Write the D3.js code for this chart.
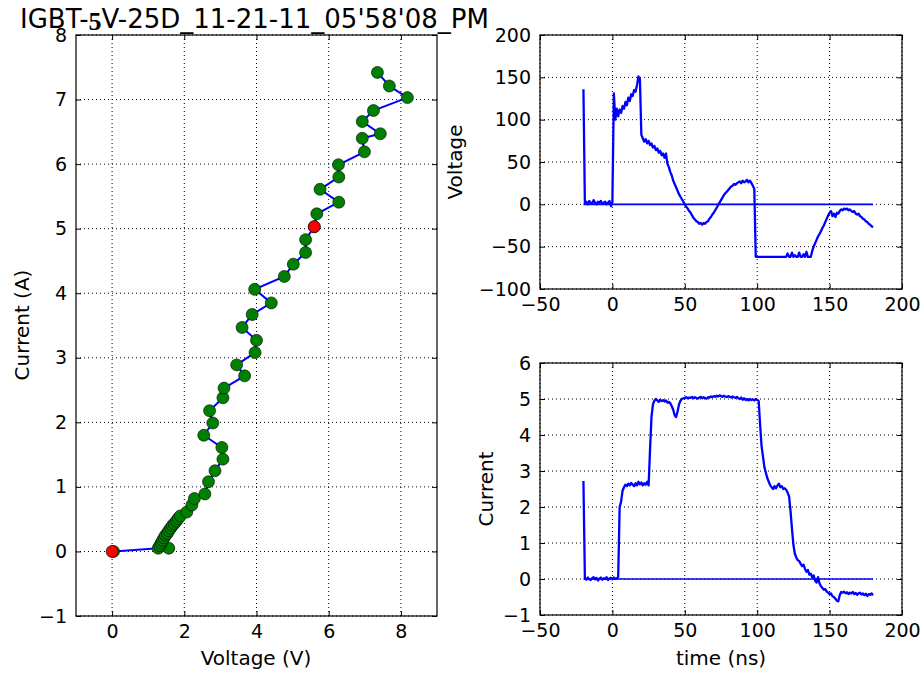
<!DOCTYPE html>
<html><head><meta charset="utf-8">
<script src="https://cdn.jsdelivr.net/npm/d3@7"></script>
<style>body{margin:0;background:#fff} svg{display:block} text{font-family:"DejaVu Sans",sans-serif;fill:#000}</style>
</head><body><svg id="c" width="921" height="675"></svg>
<script>
// ---------- DATA ----------
const titleParts = ["IGBT-", "5", "V-25D_11-21-11_05'58'08_PM"];

// I-V trajectory (left panel)
const ivVoltage = [0.04, 1.28, 1.57, 1.32, 1.36, 1.40, 1.44, 1.48, 1.53, 1.57, 1.62, 1.67, 1.72, 1.78, 1.83, 1.89,
  2.07, 2.21, 2.28, 2.57, 2.67, 2.85, 3.07, 3.04, 2.54, 2.79, 2.70, 3.07, 3.10, 3.67, 3.45, 3.96, 4.00, 3.60, 3.88,
  4.41, 3.95, 4.77, 5.02, 5.36, 5.36, 5.60, 5.67, 6.28, 5.76, 6.28, 6.27, 6.99, 6.93, 7.43, 6.93, 7.24, 8.18, 7.68, 7.35];
const ivCurrent = [0.00, 0.05, 0.05, 0.09, 0.13, 0.17, 0.21, 0.25, 0.28, 0.32, 0.36, 0.40, 0.43, 0.47, 0.51, 0.55,
  0.61, 0.72, 0.82, 0.89, 1.08, 1.25, 1.43, 1.61, 1.80, 1.99, 2.18, 2.38, 2.53, 2.72, 2.89, 3.08, 3.27, 3.47, 3.67,
  3.85, 4.06, 4.26, 4.45, 4.63, 4.83, 5.03, 5.23, 5.41, 5.61, 5.80, 5.99, 6.19, 6.40, 6.47, 6.66, 6.83, 7.03, 7.21, 7.42];
const markedVoltage = [0.0, 5.60];
const markedCurrent = [0.0, 5.03];

const ivXTicks = [0, 2, 4, 6, 8];
const ivYTicks = [-1, 0, 1, 2, 3, 4, 5, 6, 7, 8];

// Waveforms, one sample per ns from -20 ns to 180 ns
const sampleStart = -20, sampleEnd = 180;
const voltageTrace = [136,
  1, 3, 0, 4, 2, 1, 5, 2, 0, 3, 2, 4, 1, 2, 3, 0, 2, 4, -2,
  3,
  131, 100, 113, 104, 112, 108, 116, 113, 121, 117, 126, 122, 130, 128, 135, 133, 141, 151, 148, 82,
  78, 74, 77, 72, 75, 70, 72, 67, 69, 64, 66, 61, 63, 58, 60, 55, 60, 48, 44, 38, 34, 28, 24, 20, 16, 12, 9, 6, 3, 0,
  -3, -5, -8, -10, -13, -16, -18, -20, -21, -23, -22, -24, -22, -23, -21, -20, -17, -15, -12, -10, -7, -4, -1, 2, 5,
  8, 11, 13, 15, 17, 19, 21, 22, 24, 23, 25, 26, 27, 25, 28, 26, 27, 29, 26, 28, 25, 22, 18,
  -62, -62, -62, -62, -62, -62, -62, -62, -62, -62, -62, -62, -62, -62, -62, -62, -62, -62, -62, -62, -62,
  -62, -58, -62, -62, -57, -62, -60, -62, -62, -57, -62, -62, -59, -62, -56, -62, -62, -62,
  -55, -50, -46, -42, -38, -35, -32, -28, -25, -21, -17, -13, -10, -8, -14, -11, -15, -10, -11, -8, -6, -7, -5, -6, -5,
  -7, -6, -8, -9, -8, -11, -12, -11, -14, -15, -17, -18, -20, -21, -23, -24, -26, -27];
const currentTrace = [2.72,
  0.03, -0.02, 0.04, 0.0, -0.03, 0.02, 0.05, -0.01, 0.03, -0.04, 0.01, 0.04, -0.02, 0.02, 0.0, 0.05, -0.03, 0.02, 0.03, -0.01, 0.04, 0.0, 0.02,
  0.05, 2.0, 2.15, 2.45, 2.55, 2.62, 2.58, 2.65, 2.6, 2.67, 2.62, 2.58, 2.66, 2.6, 2.7, 2.63, 2.68, 2.6, 2.66, 2.62, 2.7, 2.6,
  3.6, 4.5, 4.85, 4.95, 5.0, 4.96, 4.92, 4.98, 4.94, 4.97, 4.93, 4.96, 4.9, 4.92, 4.88, 4.8, 4.7, 4.55, 4.5, 4.65, 4.85, 4.95, 5.0, 5.02,
  5.03, 5.05, 5.02, 5.04, 5.03, 5.06, 5.02, 5.05, 5.03, 5.01, 5.04, 5.06, 5.02, 5.05, 5.03, 5.01, 5.05, 5.04, 5.07, 5.05,
  5.08, 5.06, 5.09, 5.07, 5.1, 5.08, 5.06, 5.09, 5.07, 5.05, 5.08, 5.06, 5.04, 5.07, 5.05, 5.03, 5.06, 5.02, 5.0, 5.04,
  4.98, 5.02, 4.97, 5.0, 4.96, 5.0, 4.97, 4.99, 4.96, 5.0, 4.97, 4.95,
  4.3, 3.7, 3.4, 3.1, 2.95, 2.8, 2.7, 2.6, 2.55, 2.5, 2.58, 2.52, 2.6, 2.65, 2.55, 2.58, 2.5, 2.52, 2.48, 2.4,
  2.3, 1.9, 1.4, 0.95, 0.7, 0.6, 0.52, 0.5, 0.42, 0.36, 0.4, 0.28, 0.2, 0.25, 0.12, 0.15, 0.05, 0.1, -0.05, -0.1,
  0.05, -0.12, -0.2, -0.25, -0.3, -0.28, -0.35, -0.38, -0.42, -0.4, -0.48, -0.5, -0.55, -0.6, -0.62, -0.45, -0.36, -0.38, -0.35, -0.4,
  -0.37, -0.42, -0.38, -0.4, -0.36, -0.42, -0.39, -0.44, -0.4, -0.38, -0.43, -0.4, -0.45, -0.41, -0.47, -0.42, -0.44, -0.4, -0.45];
const zeroLineTime = [-20, 180];
const zeroLineValue = [0, 0];

const timeTicks = [-50, 0, 50, 100, 150, 200];
const voltageTicks = [-100, -50, 0, 50, 100, 150, 200];
const currentTicks = [-1, 0, 1, 2, 3, 4, 5, 6];

// ---------- DRAW ----------
const svg = d3.select("#c");
svg.append("rect").attr("width", 921).attr("height", 675).attr("fill", "#fff");

const FS = 19;
function panel(box, xDomain, yDomain, xTicks, yTicks) {
  const x = d3.scaleLinear().domain(xDomain).range([box.x0, box.x1]);
  const y = d3.scaleLinear().domain(yDomain).range([box.y1, box.y0]);
  const g = svg.append("g");
  const grid = g.append("g").attr("stroke", "#000").attr("stroke-width", 1).attr("stroke-dasharray", "1,3");
  grid.selectAll(".gx").data(xTicks).join("line").attr("class", "gx")
    .attr("x1", d => x(d)).attr("x2", d => x(d)).attr("y1", box.y0).attr("y2", box.y1);
  grid.selectAll(".gy").data(yTicks).join("line").attr("class", "gy")
    .attr("x1", box.x0).attr("x2", box.x1).attr("y1", d => y(d)).attr("y2", d => y(d));
  const fmt = d3.format("d");
  const axes = [
    [d3.axisBottom(x).tickValues(xTicks).tickSize(-5).tickPadding(9).tickFormat(fmt), `translate(0,${box.y1})`],
    [d3.axisTop(x).tickValues(xTicks).tickSize(-5).tickFormat(""), `translate(0,${box.y0})`],
    [d3.axisLeft(y).tickValues(yTicks).tickSize(-5).tickPadding(9).tickFormat(fmt), `translate(${box.x0},0)`],
    [d3.axisRight(y).tickValues(yTicks).tickSize(-5).tickFormat(""), `translate(${box.x1},0)`]
  ];
  axes.forEach(([ax, tr]) => {
    const a = g.append("g").attr("transform", tr).call(ax);
    a.select(".domain").remove();
    a.selectAll("line").attr("stroke", "#000").attr("stroke-width", 1);
    a.selectAll("text").attr("font-size", FS).attr("font-family", "DejaVu Sans").attr("fill", "#000");
  });
  const plot = svg.append("g");
  const frame = () => svg.append("rect").attr("x", box.x0).attr("y", box.y0)
    .attr("width", box.x1 - box.x0).attr("height", box.y1 - box.y0)
    .attr("fill", "none").attr("stroke", "#000").attr("stroke-width", 1.2);
  return { x, y, plot, frame };
}

// Left: I-V
const L = panel({ x0: 76, x1: 437, y0: 35, y1: 616 }, [-1, 9], [-1, 8], ivXTicks, ivYTicks);
const ivPts = ivVoltage.map((v, i) => [v, ivCurrent[i]]);
L.plot.append("path").datum(ivPts)
  .attr("d", d3.line().x(d => L.x(d[0])).y(d => L.y(d[1])))
  .attr("fill", "none").attr("stroke", "#0000ff").attr("stroke-width", 2);
L.plot.selectAll(".gp").data(ivPts).join("circle").attr("class", "gp")
  .attr("cx", d => L.x(d[0])).attr("cy", d => L.y(d[1])).attr("r", 6)
  .attr("fill", "#008000").attr("stroke", "#000").attr("stroke-width", 0.6);
L.plot.selectAll(".rp").data(markedVoltage.map((v, i) => [v, markedCurrent[i]])).join("circle").attr("class", "rp")
  .attr("cx", d => L.x(d[0])).attr("cy", d => L.y(d[1])).attr("r", 6)
  .attr("fill", "#ff0000").attr("stroke", "#000").attr("stroke-width", 0.6);
L.frame();

const times = d3.range(sampleStart, sampleEnd + 1, 1);

// Top right: Voltage vs time
const V = panel({ x0: 540, x1: 902, y0: 35, y1: 289 }, [-50, 200], [-100, 200], timeTicks, voltageTicks);
V.plot.append("path").datum(zeroLineTime.map((t, i) => [t, zeroLineValue[i]]))
  .attr("d", d3.line().x(d => V.x(d[0])).y(d => V.y(d[1])))
  .attr("fill", "none").attr("stroke", "#0000ff").attr("stroke-width", 1.6);
V.plot.append("path").datum(times.map((t, i) => [t, voltageTrace[i]]))
  .attr("d", d3.line().x(d => V.x(d[0])).y(d => V.y(d[1])))
  .attr("fill", "none").attr("stroke", "#0000ff").attr("stroke-width", 2.3).attr("stroke-linejoin", "round");
V.frame();

// Bottom right: Current vs time
const C = panel({ x0: 540, x1: 902, y0: 363, y1: 615 }, [-50, 200], [-1, 6], timeTicks, currentTicks);
C.plot.append("path").datum(zeroLineTime.map((t, i) => [t, zeroLineValue[i]]))
  .attr("d", d3.line().x(d => C.x(d[0])).y(d => C.y(d[1])))
  .attr("fill", "none").attr("stroke", "#0000ff").attr("stroke-width", 1.6);
C.plot.append("path").datum(times.map((t, i) => [t, currentTrace[i]]))
  .attr("d", d3.line().x(d => C.x(d[0])).y(d => C.y(d[1])))
  .attr("fill", "none").attr("stroke", "#0000ff").attr("stroke-width", 2.3).attr("stroke-linejoin", "round");
C.frame();

// Labels
function label(txt, x, y, rot) {
  const t = svg.append("text").attr("font-size", 20).attr("text-anchor", "middle").text(txt);
  if (rot) t.attr("transform", `translate(${x},${y}) rotate(-90)`);
  else t.attr("x", x).attr("y", y);
}
label("Voltage (V)", 256, 665);
label("time (ns)", 721, 665);
label("Current (A)", 29, 325, true);
label("Voltage", 462, 162, true);
label("Current", 493, 489, true);

const title = svg.append("text").attr("x", 20).attr("y", 28).attr("font-size", 26);
title.append("tspan").text(titleParts[0]);
title.append("tspan").attr("font-family", "Liberation Serif").attr("font-weight", "bold").attr("dy", 2).text(titleParts[1]);
title.append("tspan").attr("dy", -2).text(titleParts[2]);
</script>
</body></html>
